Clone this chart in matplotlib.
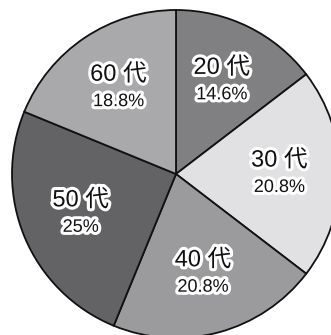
import numpy as np
import matplotlib
matplotlib.use("Agg")
import matplotlib.pyplot as plt
import matplotlib.patheffects as pe

categories = ["20 代", "30 代", "40 代", "50 代", "60 代"]
values = [14.6, 20.8, 20.8, 25.0, 18.8]
pct_labels = ["14.6%", "20.8%", "20.8%", "25%", "18.8%"]
colors = ["#808083", "#e1e1e3", "#9b9b9e", "#636366", "#a9a9ac"]

fig = plt.figure(figsize=(3.31, 3.35), dpi=100)
ax = fig.add_axes([0, 0, 1, 1])
wedges, _ = ax.pie(values, colors=colors, startangle=90, counterclock=False,
                   radius=1.0, wedgeprops=dict(edgecolor="#111111", linewidth=1.3))
ax.set_xlim(-176 / 164, (331 - 176) / 164)
ax.set_ylim(-(335 - 174) / 164, 174 / 164)
ax.set_aspect("auto")
ax.axis("off")

fam = ["Liberation Sans", "Noto Sans CJK JP", "DejaVu Sans"]
halo = [pe.withStroke(linewidth=4.5, foreground="white")]
for w, name, pct in zip(wedges, categories, pct_labels):
    ang = np.deg2rad((w.theta1 + w.theta2) / 2)
    r = 0.63
    x, y = r * np.cos(ang), r * np.sin(ang)
    ax.text(x, y + 0.082, name, ha="center", va="center", fontsize=17,
            family=fam, color="#111111", path_effects=halo)
    ax.text(x, y - 0.082, pct, ha="center", va="center", fontsize=13,
            family=fam, color="#111111", path_effects=halo)

fig.savefig("out.png", dpi=100)
